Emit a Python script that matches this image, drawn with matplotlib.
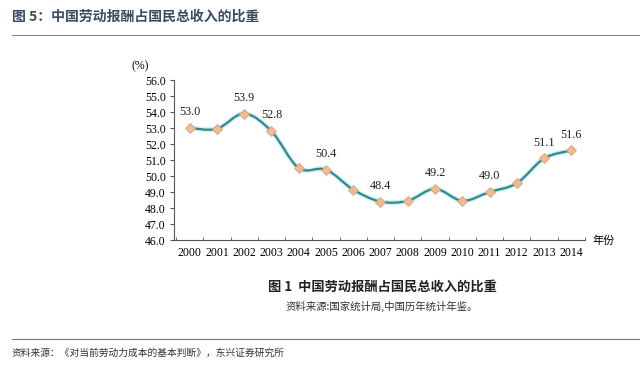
import matplotlib.pyplot as plt
from matplotlib.path import Path
from matplotlib.patches import PathPatch
import numpy as np

years = [2000, 2001, 2002, 2003, 2004, 2005, 2006, 2007, 2008, 2009, 2010, 2011, 2012, 2013, 2014]
share = [53.0, 52.95, 53.9, 52.8, 50.5, 50.4, 49.15, 48.4, 48.45, 49.2, 48.45, 49.0, 49.55, 51.1, 51.6]
labelled = {2000: '53.0', 2002: '53.9', 2003: '52.8', 2005: '50.4', 2007: '48.4',
            2009: '49.2', 2011: '49.0', 2013: '51.1', 2014: '51.6'}

cjk = ['Noto Sans CJK SC', 'DejaVu Sans']
serif = ['Liberation Serif', 'DejaVu Serif']

fig = plt.figure(figsize=(6.4, 3.67), dpi=100)
ax = fig.add_axes([0.272, 0.346, 0.642, 0.436])

# smooth line through the points with cubic bezier segments (Catmull-Rom style)
x = np.array(years, dtype=float)
y = np.array(share)
verts = [(x[0], y[0])]
codes = [Path.MOVETO]
for i in range(len(x) - 1):
    x0, y0 = (x[i - 1], y[i - 1]) if i > 0 else (x[i], y[i])
    x3, y3 = (x[i + 2], y[i + 2]) if i + 2 < len(x) else (x[i + 1], y[i + 1])
    c1 = (x[i] + (x[i + 1] - x0) / 6, y[i] + (y[i + 1] - y0) / 6)
    c2 = (x[i + 1] - (x3 - x[i]) / 6, y[i + 1] - (y3 - y[i]) / 6)
    verts += [c1, c2, (x[i + 1], y[i + 1])]
    codes += [Path.CURVE4] * 3
path = Path(verts, codes)
ax.add_patch(PathPatch(path, fill=False, edgecolor='#d2f0f3', lw=3.6, zorder=2))
ax.add_patch(PathPatch(path, fill=False, edgecolor='#31898d', lw=1.6, zorder=3))
ax.plot(years, share, ls='none', marker='D', ms=5.5, mfc='#eebb92', mec='#d9a27a',
        mew=0.6, zorder=4)

for yr, txt in labelled.items():
    ax.annotate(txt, (yr, share[years.index(yr)]), xytext=(0, 7), textcoords='offset points',
                ha='center', va='bottom', fontsize=8.8, family=serif, color='#222222')

ax.set_xlim(1999.43, 2014.5)
ax.set_ylim(46, 56)
ax.set_yticks(np.arange(46, 56.1, 1))
ax.set_yticklabels([f'{v:.1f}' for v in np.arange(46, 56.1, 1)], family=serif, fontsize=8.5)
ax.set_xticks(years)
ax.set_xticklabels([str(v) for v in years], family=serif, fontsize=8.5)
ax.set_xticks(np.arange(1999.5, 2014.6, 1), minor=True)
ax.tick_params(axis='x', which='major', length=0, pad=5)
ax.tick_params(axis='x', which='minor', length=2.5, direction='in', color='#555555')
ax.tick_params(axis='y', length=3, direction='out', color='#555555', pad=3)
for s in ['top', 'right']:
    ax.spines[s].set_visible(False)
for s in ['left', 'bottom']:
    ax.spines[s].set_color('#555555')
    ax.spines[s].set_linewidth(0.8)

fig.text(140 / 640, 1 - 66 / 367, '(%)', family=serif, fontsize=8.5, ha='center', va='center')
fig.text(592 / 640, 1 - 241 / 367, '年份', family=cjk, fontsize=8, ha='left', va='center')

fig.text(12 / 640, 1 - 17 / 367, '图 5：中国劳动报酬占国民总收入的比重', family=cjk, fontsize=10,
         fontweight='bold', color='#3b4a63', ha='left', va='center')
fig.add_artist(plt.Line2D([12 / 640, 1], [1 - 35 / 367] * 2, color='#888888', lw=0.8))

fig.text(382 / 640, 1 - 287 / 367, '图 1  中国劳动报酬占国民总收入的比重', family=cjk, fontsize=9.5,
         fontweight='bold', color='#222222', ha='center', va='center')
fig.text(382 / 640, 1 - 306 / 367, '资料来源:国家统计局,中国历年统计年鉴。', family=cjk, fontsize=7.5,
         color='#333333', ha='center', va='center')

fig.add_artist(plt.Line2D([12 / 640, 1], [1 - 339 / 367] * 2, color='#777777', lw=0.8))
fig.text(12 / 640, 1 - 353 / 367, '资料来源：《对当前劳动力成本的基本判断》，东兴证券研究所', family=cjk,
         fontsize=7, style='italic', color='#333333', ha='left', va='center')

fig.savefig('out.png', dpi=100)
